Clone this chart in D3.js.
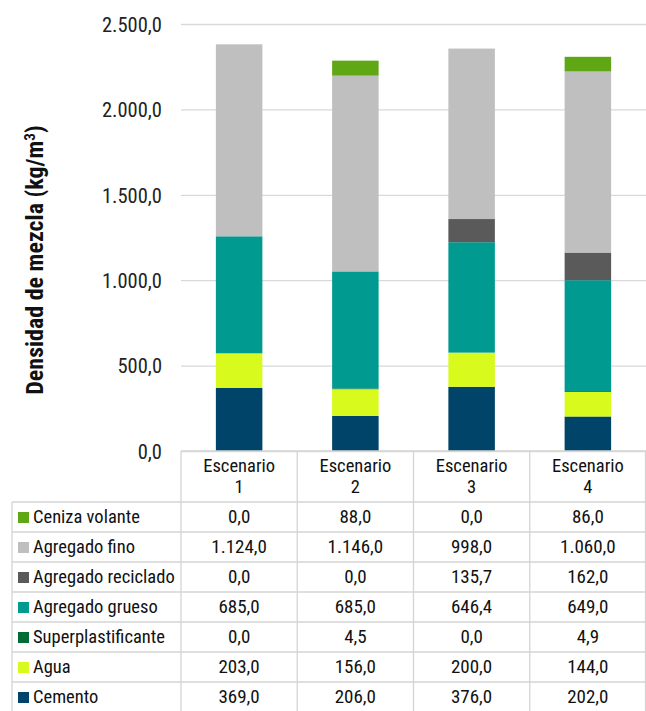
<!DOCTYPE html>
<html>
<head>
<meta charset="utf-8">
<script src="https://cdn.jsdelivr.net/npm/d3@7"></script>
<style>
  body { margin: 0; background: #fff; }
  svg text { font-family: "Roboto Condensed", "Liberation Sans", sans-serif; }
</style>
</head>
<body>
<svg class="chart" width="646" height="711"></svg>
<script>
// scenarios (columns)
const scenarios = ['Escenario 1', 'Escenario 2', 'Escenario 3', 'Escenario 4'];
// series, bottom of the stack first
const series = ['Cemento', 'Agua', 'Superplastificante', 'Agregado grueso', 'Agregado reciclado', 'Agregado fino', 'Ceniza volante'];
const colors = ['#004469', '#d8fa1c', '#006b35', '#009a90', '#5a5a5a', '#bfbfbf', '#5fa714'];

const cemento = [369.0, 206.0, 376.0, 202.0];
const agua = [203.0, 156.0, 200.0, 144.0];
const superplastificante = [0.0, 4.5, 0.0, 4.9];
const agregadoGrueso = [685.0, 685.0, 646.4, 649.0];
const agregadoReciclado = [0.0, 0.0, 135.7, 162.0];
const agregadoFino = [1124.0, 1146.0, 998.0, 1060.0];
const cenizaVolante = [0.0, 88.0, 0.0, 86.0];

const yTicks = [0, 500, 1000, 1500, 2000, 2500];

document.addEventListener('DOMContentLoaded', function() {
    const svg = d3.select('svg.chart');
    const values = [cemento, agua, superplastificante, agregadoGrueso, agregadoReciclado, agregadoFino, cenizaVolante];

    const es = d3.formatLocale({ decimal: ',', thousands: '.', grouping: [3], currency: ['', ' €'] });
    const fmt = es.format(',.1f');

    // rows for d3.stack
    const rows = scenarios.map((s, i) => {
        const r = { scenario: s };
        series.forEach((name, k) => { r[name] = values[k][i]; });
        return r;
    });

    const left = 181, right = 646, top = 24, base = 451;
    const x = d3.scaleBand().domain(scenarios).range([left, right]).padding(0);
    const y = d3.scaleLinear().domain([0, 2500]).range([base, top]);
    const color = d3.scaleOrdinal().domain(series).range(colors);

    // gridlines + tick labels
    const axis = svg.append('g')
        .attr('transform', `translate(${left},0)`)
        .call(d3.axisLeft(y).tickValues(yTicks).tickFormat(fmt).tickSize(-(right - left)).tickPadding(19));
    axis.select('.domain').remove();
    axis.selectAll('.tick line').attr('stroke', '#d9d9d9').attr('stroke-width', 1.3);
    axis.selectAll('.tick text').attr('fill', '#222').attr('font-size', 20.5).attr('dy', '0.36em');

    const title = svg.append('text')
        .attr('transform', `translate(43,260) rotate(-90)`)
        .attr('text-anchor', 'middle')
        .attr('font-size', 24)
        .attr('font-weight', 'bold')
        .attr('fill', '#111');
    title.append('tspan').text('Densidad de mezcla (kg/m');
    title.append('tspan').attr('dy', -8).attr('font-size', 15).text('3');
    title.append('tspan').attr('dy', 8).text(')');

    // stacked bars
    const stacked = d3.stack().keys(series)(rows);
    const barW = x.bandwidth() * 0.4;
    svg.append('g').selectAll('g')
        .data(stacked)
        .join('g')
        .attr('fill', d => color(d.key))
        .selectAll('rect')
        .data(d => d)
        .join('rect')
        .attr('x', d => x(d.data.scenario) + (x.bandwidth() - barW) / 2)
        .attr('width', barW)
        .attr('y', d => y(d[1]))
        .attr('height', d => y(d[0]) - y(d[1]));

    // data table
    const headerH = 51, rowH = 30, tableLeft = 12;
    const tbl = svg.append('g');
    const line = '#d4d4d4';
    const tableRows = series.slice().reverse();
    const tableBottom = base + headerH + rowH * tableRows.length;

    // header cells
    scenarios.forEach(s => {
        const parts = s.split(' ');
        const cx = x(s) + x.bandwidth() / 2;
        const t = tbl.append('text')
            .attr('y', base + 21)
            .attr('text-anchor', 'middle')
            .attr('font-size', 18.5)
            .attr('fill', '#111');
        t.append('tspan').attr('x', cx).text(parts[0]);
        t.append('tspan').attr('x', cx).attr('dy', 20.5).text(parts[1]);
    });

    // horizontal lines
    tbl.append('line').attr('x1', left).attr('x2', right).attr('y1', base).attr('y2', base);
    d3.range(tableRows.length + 1).forEach(i => {
        const yy = base + headerH + rowH * i;
        tbl.append('line').attr('x1', tableLeft).attr('x2', right).attr('y1', yy).attr('y2', yy);
    });
    // vertical lines
    tbl.append('line').attr('x1', tableLeft).attr('x2', tableLeft).attr('y1', base + headerH).attr('y2', tableBottom);
    scenarios.forEach(s => {
        tbl.append('line').attr('x1', x(s)).attr('x2', x(s)).attr('y1', base).attr('y2', tableBottom);
    });
    tbl.append('line').attr('x1', right - 0.5).attr('x2', right - 0.5).attr('y1', base).attr('y2', tableBottom);
    tbl.selectAll('line').attr('stroke', line).attr('stroke-width', 1.3);

    tableRows.forEach((name, i) => {
        const rowTop = base + headerH + rowH * i;
        const k = series.indexOf(name);
        tbl.append('rect')
            .attr('x', 18).attr('y', rowTop + 10)
            .attr('width', 11).attr('height', 11)
            .attr('fill', color(name));
        tbl.append('text')
            .attr('x', 33).attr('y', rowTop + 21)
            .attr('font-size', 18.5).attr('fill', '#111')
            .text(name);
        scenarios.forEach((s, j) => {
            tbl.append('text')
                .attr('x', x(s) + x.bandwidth() / 2).attr('y', rowTop + 21)
                .attr('text-anchor', 'middle')
                .attr('font-size', 19).attr('fill', '#111')
                .text(fmt(values[k][j]));
        });
    });
});
</script>
</body>
</html>
